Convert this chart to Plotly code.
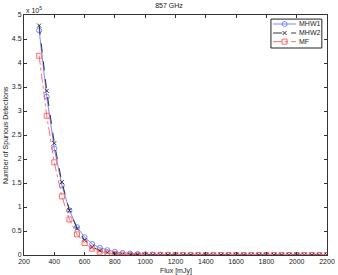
import plotly.graph_objects as go

flux = list(range(300, 2201, 50))
mhw1 = [4.68, 3.30, 2.22, 1.45, 0.93, 0.58, 0.37, 0.23, 0.15, 0.10, 0.065, 0.045, 0.03, 0.02, 0.015,
        0.01, 0.008, 0.006, 0.005, 0.004, 0.003, 0.003, 0.002, 0.002, 0.002, 0.001, 0.001, 0.001,
        0.001, 0.001, 0.001, 0.001, 0.001, 0.001, 0.001, 0.001, 0.001, 0.001, 0.001]
mhw2 = [4.78, 3.42, 2.33, 1.52, 0.93, 0.55, 0.31, 0.17, 0.09, 0.05, 0.025, 0.012, 0.006, 0.003, 0.002,
        0.001, 0.001, 0.001, 0.0, 0.0, 0.0, 0.0, 0.0, 0.0, 0.0, 0.0, 0.0, 0.0,
        0.0, 0.0, 0.0, 0.0, 0.0, 0.0, 0.0, 0.0, 0.0, 0.0, 0.0]
mf = [4.15, 2.90, 1.93, 1.22, 0.74, 0.43, 0.25, 0.13, 0.07, 0.035, 0.017, 0.008, 0.004, 0.002, 0.001,
      0.001, 0.0, 0.0, 0.0, 0.0, 0.0, 0.0, 0.0, 0.0, 0.0, 0.0, 0.0, 0.0,
      0.0, 0.0, 0.0, 0.0, 0.0, 0.0, 0.0, 0.0, 0.0, 0.0, 0.0]

series_names = ["MHW1", "MHW2", "MF"]
xticks = list(range(200, 2201, 200))
yticks = [0, 0.5, 1, 1.5, 2, 2.5, 3, 3.5, 4, 4.5, 5]
ytick_text = ["0", "0.5", "1", "1.5", "2", "2.5", "3", "3.5", "4", "4.5", "5"]

FONT = "Liberation Sans"
FS = 7
TXT = "#222222"
BLUE = "#6a7cff"
BLACK = "#222222"
RED = "#ff5f5f"

styles = [
    dict(line=dict(color=BLUE, width=0.9),
         marker=dict(symbol="circle-open", size=5, color=BLUE, line=dict(width=0.9, color=BLUE))),
    dict(line=dict(color=BLACK, width=0.9, dash="dash"),
         marker=dict(symbol="x-thin-open", size=4, color=BLACK, line=dict(width=0.9, color=BLACK))),
    dict(line=dict(color=RED, width=0.9, dash="dashdot"),
         marker=dict(symbol="square-open", size=5, color=RED, line=dict(width=0.9, color=RED))),
]

fig = go.Figure()
for name, ys, st in zip(series_names, [mhw1, mhw2, mf], styles):
    fig.add_trace(go.Scatter(x=flux, y=ys, name=name, mode="lines+markers", showlegend=False, **st))

# manual compact legend (MATLAB style)
leg_y = [0.9625, 0.925, 0.889]
for name, ly, st in zip(series_names, leg_y, styles):
    fig.add_trace(go.Scatter(x=[0.822, 0.898], y=[ly, ly], mode="lines", line=st["line"],
                             xaxis="x2", yaxis="y2", showlegend=False, hoverinfo="skip"))
    fig.add_trace(go.Scatter(x=[0.86], y=[ly], mode="markers", marker=st["marker"],
                             xaxis="x2", yaxis="y2", showlegend=False, hoverinfo="skip"))

axis_common = dict(showgrid=False, zeroline=False, showline=True, linecolor="#333333", linewidth=1,
                   mirror="ticks", ticks="inside", ticklen=3, tickcolor="#333333", automargin=False,
                   tickfont=dict(size=FS, family=FONT, color=TXT))

annotations = [
    dict(text="x 10<sup>5</sup>", xref="paper", yref="paper", x=0.0, y=1.0,
         xanchor="left", yanchor="bottom", yshift=-1, showarrow=False,
         font=dict(size=FS, family=FONT, color=TXT)),
    dict(text="Number of Spurious Detections", xref="paper", yref="paper", x=0, y=0.5,
         xanchor="center", yanchor="middle", xshift=-18, textangle=-90, showarrow=False,
         font=dict(size=FS, family=FONT, color=TXT)),
    dict(text="Flux [mJy]", xref="paper", yref="paper", x=0.5, y=0,
         xanchor="center", yanchor="top", yshift=-10, showarrow=False,
         font=dict(size=FS, family=FONT, color=TXT)),
]
for name, ly in zip(series_names, leg_y):
    annotations.append(dict(text=name, xref="paper", yref="paper", x=0.901, y=ly,
                            xanchor="left", yanchor="middle", showarrow=False,
                            font=dict(size=FS, family=FONT, color=TXT)))

fig.update_layout(
    width=338, height=275,
    margin=dict(l=24, r=11, t=15, b=20),
    paper_bgcolor="white", plot_bgcolor="white",
    title=dict(text="857 GHz", x=0.5, xanchor="center", y=0.99, yanchor="top",
               font=dict(size=FS, family=FONT, color=TXT)),
    xaxis=dict(range=[200, 2200], tickvals=xticks, **axis_common),
    yaxis=dict(range=[0, 5], tickvals=yticks, ticktext=ytick_text, **axis_common),
    xaxis2=dict(range=[0, 1], overlaying="x", visible=False, fixedrange=True),
    yaxis2=dict(range=[0, 1], overlaying="y", visible=False, fixedrange=True),
    shapes=[dict(type="rect", xref="paper", yref="paper", x0=0.815, x1=0.983, y0=0.8625, y1=0.983,
                 line=dict(color="#222222", width=1), fillcolor="rgba(0,0,0,0)")],
    annotations=annotations,
    showlegend=False,
)

fig.write_html("out.html",
               config={"displayModeBar": False, "staticPlot": True},
               post_script="document.body.style.margin='0';document.body.style.padding='0';"
                           "document.body.style.overflow='hidden';")
